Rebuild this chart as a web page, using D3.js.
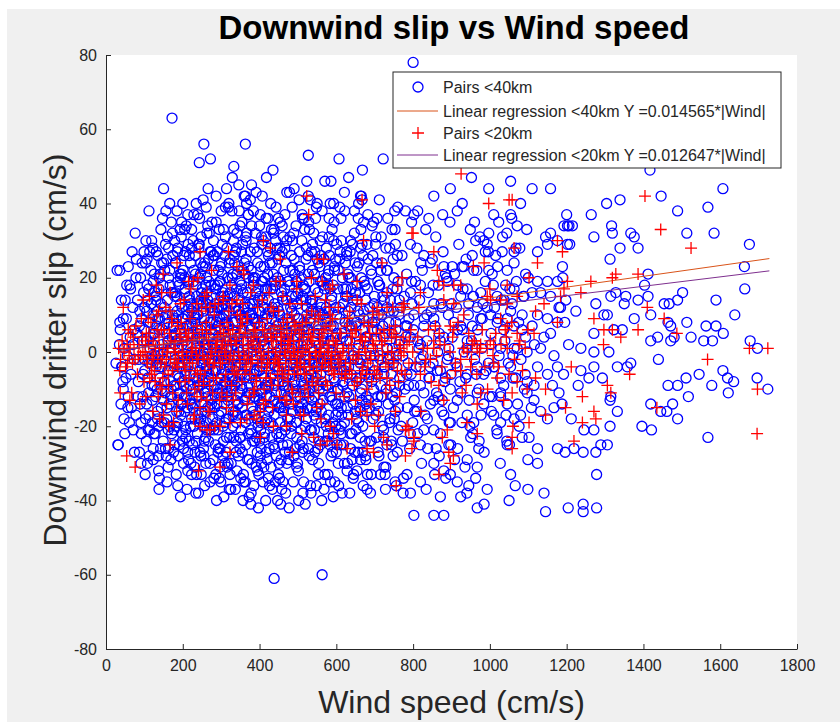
<!DOCTYPE html>
<html>
<head>
<meta charset="utf-8">
<script src="https://cdn.jsdelivr.net/npm/d3@7"></script>
<style>
  body { margin: 0; background: #ffffff; }
  text { font-family: "Liberation Sans", Arial, Helvetica, sans-serif; }
</style>
</head>
<body>
<script>
// Downwind slip vs Wind speed (MATLAB style scatter)

// tick labels
var xTicks = [0, 200, 400, 600, 800, 1000, 1200, 1400, 1600, 1800];
var yTicks = [-80, -60, -40, -20, 0, 20, 40, 60, 80];

// legend entries and regression fits (Y = slope * |Wind|)
var legendLabels = [
  "Pairs <40km",
  "Linear regression <40km Y =0.014565*|Wind|",
  "Pairs <20km",
  "Linear regression <20km Y =0.012647*|Wind|"
];
var slopes = [0.014565, 0.012647];
var regWind = [36, 1728];

// pairs <40km, flat list: wind, slip, wind, slip ...
var pairs40 = [
  // 25-75
  31,-25, 29,22, 36,8, 42,-4, 45,9, 37,6, 26,-3, 41,-4, 45,-10, 58,-12, 71,-21, 32,-25, 36,22, 58,23, 54,18,
  48,1, 52,-7, 63,4, 66,-15, 70,12, 73,-2, 50,14, 61,-19, 68,27, 39,-14, 55,-1, 72,6, 64,17, 47,-18, 35,2,
  // 75-125
  76,32, 104,30, 123,19, 89,-14, 106,-14, 123,-26, 80,5, 84,-8, 88,11, 92,-22, 95,3, 98,16, 101,-5, 103,24,
  108,-30, 110,8, 112,-17, 115,1, 118,13, 120,-9, 122,28, 85,-2, 90,20, 96,-12, 100,6, 105,-24, 109,14, 113,-3,
  117,22, 121,-19, 78,-17, 82,14, 87,-27, 93,9, 97,-6, 102,-33, 107,18, 111,-11, 116,4, 119,-1, 124,10, 79,25,
  91,-30, 99,27, 114,-21,
  // 125-175
  150,44, 145,24, 150,24, 136,-28, 123,-29, 139,-34, 163,20, 163,-26, 172,63, 127,5, 129,-12, 131,15, 133,-3,
  135,26, 137,-20, 139,9, 141,-7, 143,33, 144,-15, 146,2, 148,18, 149,-24, 151,-2, 152,12, 154,-11, 155,29,
  157,5, 158,-18, 160,14, 161,-5, 162,-31, 164,8, 165,-14, 166,22, 168,1, 169,-8, 170,35, 171,-22, 173,10,
  174,-3, 126,21, 128,-22, 130,-4, 132,7, 134,-16, 138,17, 140,-1, 142,-26, 147,6, 153,-8, 156,38, 159,-35,
  163,3, 167,-20, 170,16, 174,26, 134,11, 144,-10, 152,-19, 160,31, 168,-12, 172,4, 157,-28,
  // 175-225
  197,35, 209,34, 193,21, 215,19, 184,-16, 215,-29, 221,-30, 177,7, 178,-9, 179,15, 180,-2, 181,24, 182,-20,
  183,3, 185,11, 186,-6, 187,28, 188,-13, 189,1, 190,18, 191,-25, 192,6, 193,-4, 194,13, 195,-17, 196,31,
  198,-8, 199,9, 200,-1, 201,22, 202,-30, 203,4, 204,-12, 205,16, 206,-6, 207,27, 208,-21, 210,2, 211,10,
  212,-15, 213,37, 214,-3, 216,7, 217,-24, 218,14, 219,-9, 220,24, 222,0, 223,-18, 224,11, 176,-27, 179,30,
  183,-33, 187,19, 191,-11, 195,5, 199,-22, 203,26, 207,-2, 211,-37, 215,12, 219,-13, 223,33, 178,-4, 182,9,
  186,-19, 190,-7, 194,20, 198,2, 202,-26, 206,17, 210,-10, 214,29, 218,-1, 222,8, 185,38, 200,40, 213,-32,
  188,-28, 197,-14, 205,-16, 220,-20, 216,5, 181,16, 209,-5,
  // 225-275
  239,37, 241,29, 263,32, 228,19, 237,13, 245,-27, 236,-33, 255,56, 243,51, 272,52, 263,16, 271,12, 226,4,
  227,-10, 229,22, 230,-3, 231,8, 232,-18, 233,26, 234,-7, 235,1, 236,15, 238,-22, 239,-1, 240,10, 242,-12,
  243,20, 244,-5, 246,6, 247,-28, 248,31, 249,-14, 250,3, 251,17, 252,-8, 253,-20, 254,11, 256,-2, 257,24,
  258,-16, 259,7, 260,-30, 261,-4, 262,13, 264,-10, 265,34, 266,1, 267,-24, 268,19, 269,-6, 270,8, 271,-35,
  273,-13, 274,27, 226,-25, 228,12, 231,-31, 233,-1, 235,40, 238,5, 240,-17, 242,28, 245,-9, 247,14, 249,-3,
  252,23, 254,-26, 256,9, 258,-11, 260,18, 262,-19, 264,2, 266,44, 268,-8, 270,-21, 272,6, 274,-3, 227,30,
  230,-14, 234,-38, 237,3, 241,-7, 244,36, 248,-33, 251,-1, 255,15, 259,-23, 263,-5, 267,25, 271,-15, 273,12,
  229,-20, 246,21, 257,-36, 265,-12, 232,9, 250,-16, 269,4, 261,39, 253,0, 236,-12,
  // 275-325
  280,30, 306,33, 319,39, 320,40, 297,-31, 323,-33, 315,-12, 306,14, 284,13, 276,-2, 277,11, 278,-18, 279,5,
  281,22, 282,-9, 283,1, 285,-25, 286,17, 287,-5, 288,8, 289,-14, 290,27, 291,3, 292,-21, 293,12, 294,-1,
  295,-34, 296,19, 298,-7, 299,6, 300,-16, 301,24, 302,0, 303,-11, 304,9, 305,-28, 307,-3, 308,15, 309,-19,
  310,4, 311,31, 312,-8, 313,10, 314,-23, 316,1, 317,20, 318,-13, 320,7, 321,-37, 322,-4, 324,16, 276,35,
  279,-29, 282,26, 285,-12, 288,-40, 291,18, 294,-17, 297,9, 300,38, 303,-6, 306,-24, 309,13, 312,-1, 315,28,
  318,-30, 321,11, 324,-9, 278,-5, 281,-21, 284,6, 287,42, 290,-10, 293,-26, 296,2, 299,-35, 302,21, 305,-2,
  308,-14, 311,8, 314,44, 317,-6, 320,-18, 323,25, 277,15, 286,-33, 295,33, 304,-9, 313,-27, 322,3, 283,-15,
  298,19, 307,-39, 316,-11, 289,0, 301,12, 310,-30, 319,-2,
  // 325-375
  341,32, 367,32, 360,42, 371,37, 363,-35, 341,-32, 350,10, 367,9, 328,13, 332,-16, 363,56, 333,50, 363,42,
  326,5, 327,-10, 329,20, 330,-1, 331,8, 333,-23, 334,15, 335,-5, 336,2, 337,27, 338,-13, 339,11, 340,-19,
  342,4, 343,-8, 344,23, 345,-28, 346,0, 347,14, 348,-11, 349,34, 351,-3, 352,-21, 353,18, 354,6, 355,-15,
  356,29, 357,-1, 358,-33, 359,12, 361,-7, 362,21, 364,-25, 365,3, 366,-12, 368,16, 369,-4, 370,37, 372,-18,
  373,7, 374,-9, 326,-30, 328,38, 331,-20, 334,26, 337,-37, 340,17, 343,-14, 346,45, 349,-6, 352,9, 355,-27,
  358,22, 361,-2, 364,31, 367,-17, 370,1, 373,-39, 327,1, 330,-7, 335,24, 339,-24, 344,-1, 348,19, 353,-9,
  357,-40, 362,13, 366,40, 371,-22, 374,10, 332,30, 338,-4, 345,11, 351,-34, 356,3, 360,-13, 365,25, 369,-29,
  329,47, 342,-17, 354,35, 368,-6, 336,8, 350,-23, 372,20,
  // 375-425
  384,38, 402,37, 380,-30, 402,-28, 410,30, 384,18, 410,-14, 393,-18, 402,-15, 376,6, 377,-11, 378,22, 379,0,
  381,13, 382,-24, 383,3, 385,-6, 386,28, 387,-17, 388,9, 389,-2, 390,16, 391,-31, 392,5, 394,-9, 395,24,
  396,-20, 397,1, 398,11, 399,-13, 400,34, 401,-4, 403,7, 404,-26, 405,19, 406,-1, 407,-10, 408,14, 409,-35,
  411,2, 412,23, 413,-7, 414,-19, 415,10, 416,31, 417,-3, 418,-12, 419,17, 420,-29, 421,5, 422,-8, 423,26,
  424,-16, 376,41, 378,-38, 381,-15, 383,20, 386,-5, 389,32, 392,-23, 395,8, 398,-33, 401,15, 404,-11, 407,42,
  410,3, 413,-22, 416,-40, 419,9, 422,36, 424,-1, 377,-21, 380,10, 385,-36, 390,-8, 394,27, 399,4, 403,-19,
  408,-4, 412,12, 417,-27, 421,21, 379,45, 388,-12, 397,-42, 406,29, 415,-9, 423,-34, 382,2, 391,-1, 400,-24,
  409,19, 418,47, 387,14, 405,-30,
  // 425-475
  436,32, 462,31, 454,35, 441,-35, 458,-37, 436,11, 454,19, 435,49, 428,28, 438,-61, 426,4, 427,-12, 429,17,
  430,-1, 431,9, 432,-23, 433,24, 434,-6, 437,2, 438,-17, 439,13, 441,-9, 442,30, 443,0, 444,-28, 445,7,
  446,-14, 447,20, 448,-4, 449,-33, 450,11, 451,-8, 452,26, 453,-19, 455,3, 456,-11, 457,16, 459,-2, 460,-25,
  461,8, 463,22, 464,-15, 465,-1, 466,37, 467,-21, 468,6, 469,-7, 470,14, 471,-30, 472,1, 473,-12, 474,19,
  426,-36, 429,40, 432,-3, 435,-20, 438,33, 441,18, 444,-11, 447,-40, 450,-5, 453,10, 456,-29, 459,27, 462,-16,
  465,5, 468,-38, 471,43, 474,-6, 428,-15, 433,12, 437,-25, 442,-2, 446,28, 451,-23, 455,-41, 460,15, 464,-9,
  469,24, 473,-18, 430,-31, 440,6, 449,36, 457,-14, 466,-27, 472,9, 434,17, 452,-34, 463,-3,
  // 475-525
  478,43, 489,32, 516,36, 497,19, 506,-12, 506,-16, 515,-16, 471,-13, 515,-35, 523,10, 476,5, 477,-10, 479,18,
  480,-1, 481,8, 482,-22, 483,26, 484,-6, 485,1, 486,-16, 487,13, 488,-3, 490,-28, 491,10, 492,21, 493,-9,
  494,-1, 495,34, 496,-19, 498,4, 499,-12, 500,16, 501,-32, 502,-5, 503,9, 504,23, 505,-25, 507,0, 508,14,
  509,-8, 510,30, 511,-14, 512,3, 513,-38, 514,18, 517,-2, 518,-20, 519,7, 520,-10, 521,25, 522,-4, 524,12,
  476,-29, 479,31, 482,-14, 485,39, 488,-35, 491,-8, 494,15, 497,-23, 500,2, 503,41, 506,-3, 509,20, 512,-27,
  516,8, 519,-41, 522,28, 524,-15, 480,-18, 487,22, 493,-26, 499,-30, 505,5, 511,37, 518,-11, 523,46, 484,11,
  496,-4, 508,-21, 520,17, 490,44, 502,-40,
  // 525-575
  527,53, 527,42, 528,35, 541,32, 558,30, 550,25, 554,-30, 549,-15, 567,25, 563,19, 558,10, 541,-23, 558,-25,
  563,-60, 526,6, 528,-11, 529,19, 530,-2, 531,8, 532,-21, 533,14, 534,-6, 535,27, 536,-15, 537,1, 538,-29,
  539,11, 540,-8, 542,3, 543,21, 544,-12, 545,-1, 546,36, 547,-18, 548,7, 551,-4, 552,16, 553,-33, 555,2,
  556,-10, 557,23, 559,-6, 560,12, 561,-19, 562,0, 564,31, 565,-13, 566,5, 568,-37, 569,17, 570,-3, 571,-24,
  572,9, 573,-9, 574,28, 527,-26, 530,33, 534,-38, 538,22, 542,-17, 546,-3, 550,40, 554,6, 558,-14, 562,-40,
  566,18, 570,46, 574,-20, 529,-7, 536,13, 544,-27, 552,-9, 560,26, 568,3, 532,41, 548,-36, 564,-2,
  // 575-625
  584,40, 593,40, 593,30, 610,27, 607,52, 584,17, 602,-25, 576,-24, 593,-22, 584,-20, 576,8, 577,-9, 578,18,
  579,-1, 580,-17, 581,11, 582,26, 583,-5, 585,3, 586,-28, 587,14, 588,-12, 589,33, 590,0, 591,-19, 592,7,
  594,-7, 595,22, 596,-35, 597,4, 598,-14, 599,12, 600,-2, 601,29, 603,-10, 604,17, 605,-30, 606,1, 608,-21,
  609,9, 611,-4, 612,36, 613,-15, 614,5, 615,-38, 616,20, 617,-8, 618,13, 619,-25, 620,-1, 621,43, 622,-12,
  623,8, 624,24, 578,-33, 581,36, 587,-3, 592,-39, 598,25, 604,-16, 609,39, 615,-5, 621,-30, 624,15, 586,46,
  600,-27, 613,-20, 579,21,
  // 625-675
  663,42, 671,35, 663,28, 632,47, 668,49, 665,42, 628,-32, 654,-32, 663,-16, 654,18, 628,15, 654,14, 667,41,
  626,3, 628,-11, 630,21, 632,-4, 634,7, 636,-22, 638,12, 640,-1, 642,29, 644,-14, 646,5, 648,-27, 650,16,
  652,-7, 656,1, 658,-19, 660,10, 662,-3, 664,33, 666,-10, 668,6, 670,-36, 672,19, 674,-6, 627,27, 631,-17,
  635,-38, 639,17, 643,-9, 647,38, 651,-21, 655,-2, 659,24, 663,-29, 667,-13, 671,11, 675,-24, 629,-6, 637,30,
  645,-33, 653,8, 661,-15, 669,26, 641,-29, 657,36,
  // 675-725
  680,29, 702,29, 697,35, 722,52, 680,-37, 689,-38, 715,-33, 719,24, 706,12, 693,8, 680,-16, 710,-16, 676,4,
  678,-12, 681,17, 683,-3, 685,9, 687,-24, 690,22, 692,-8, 694,1, 696,-18, 698,13, 700,-5, 703,31, 705,-14,
  707,6, 709,-27, 711,18, 713,-1, 716,-9, 718,10, 720,-20, 723,4, 725,-4, 677,-29, 682,37, 686,-15, 691,-33,
  695,26, 699,-1, 704,-23, 708,19, 712,41, 717,-12, 721,15, 724,-31, 688,-6,
  // 725-767
  745,33, 754,29, 732,16, 732,12, 723,-23, 732,-25, 754,-16, 756,-36, 728,5, 730,-10, 733,22, 735,-2, 737,8,
  739,-19, 741,14, 743,-6, 746,1, 748,-28, 750,20, 752,-13, 755,6, 757,-4, 759,26, 761,-21, 763,10, 765,-9,
  727,-33, 734,36, 740,-1, 744,-25, 749,11, 753,-35, 758,17, 762,-15, 766,3, 729,28, 747,-12, 760,39,
  // 767-1184
  1110,44, 1158,44, 997,44, 897,44, 854,42, 928,40, 780,38, 802,37, 841,36, 1054,46, 1010,37, 1023,35, 1054,37,
  1071,34, 1044,32, 997,32, 984,30, 963,30, 954,26, 993,29, 1032,27, 1063,27, 1124,27, 1150,29, 1158,32,
  1176,30, 1145,31, 828,26, 845,24, 902,23, 928,23, 880,23, 997,22, 1006,21, 958,22, 1063,24, 1093,21, 1041,18,
  1063,17, 1124,19, 1150,19, 1176,19, 1110,16, 1132,16, 1158,15, 1089,15, 1019,15, 1037,14, 976,16, 941,17,
  924,15, 889,19, 915,18, 819,18, 793,16, 854,13, 876,12, 945,13, 967,12, 993,12, 1058,13, 1180,12, 1124,10,
  1150,9, 1176,8, 1158,5, 1141,4, 1110,7, 1084,6, 1045,9, 1063,7, 1002,10, 1019,8, 976,9, 954,7, 906,8, 928,6,
  854,9, 828,7, 802,10, 784,7, 793,4, 819,2, 871,3, 893,1, 941,3, 963,1, 1002,2, 1028,1, 1071,1, 1097,0,
  1132,1, 1167,-1, 1176,-4, 1124,-4, 1150,-6, 1097,-8, 1115,-9, 1054,-4, 1067,-7, 1010,-4, 1028,-7, 967,-4,
  984,-6, 915,-4, 937,-7, 863,-5, 884,-7, 819,-4, 841,-7, 784,-6, 802,-9, 828,-11, 854,-13, 897,-10, 915,-13,
  967,-11, 984,-14, 1028,-11, 1045,-14, 1097,-11, 1115,-13, 1163,-9, 1180,-11, 1167,-15, 1132,-16, 1150,-18,
  1080,-17, 1063,-18, 1010,-17, 1028,-19, 941,-17, 958,-19, 880,-17, 897,-19, 810,-16, 837,-18, 793,-22,
  819,-25, 871,-22, 893,-25, 950,-23, 971,-26, 1019,-22, 1045,-25, 1102,-23, 1124,-26, 1176,-26, 854,-30,
  880,-32, 941,-29, 967,-31, 1054,-33, 784,-33, 819,-35, 897,-33, 915,-35, 1099,-37, 1141,-38, 945,-36,
  793,-38, 871,-39, 924,-39, 967,-42, 1145,-43, 802,-44, 854,-44, 880,-44, 800,78, 952,47,
  // 1184-1730
  1417,49, 1607,44, 1446,42, 1339,41, 1304,40, 1200,37, 1264,37, 1489,38, 1568,39, 1202,34, 1215,34, 1317,34,
  1319,32, 1367,32, 1376,31, 1271,31, 1513,32, 1584,32, 1208,29, 1386,28, 1339,28, 1313,25, 1676,29, 1663,23,
  1412,21, 1664,17, 1403,18, 1502,16, 1589,14, 1638,10, 1454,13, 1467,13, 1489,14, 1412,15, 1386,14, 1354,15,
  1328,16, 1315,15, 1276,13, 1297,10, 1306,10, 1350,13, 1376,9, 1419,10, 1464,8, 1471,7, 1513,8, 1563,7,
  1589,7, 1608,5, 1271,5, 1323,6, 1345,6, 1524,4, 1557,3, 1580,3, 1419,3, 1437,4, 1471,3, 1480,4, 1678,3,
  1697,1, 1237,1, 1271,0, 1310,0, 1439,-2, 1332,-4, 1358,-4, 1367,-3, 1271,-4, 1237,-5, 1293,-7, 1258,-7,
  1545,-6, 1607,-5, 1619,-7, 1635,-8, 1511,-7, 1489,-9, 1464,-9, 1578,-9, 1621,-11, 1696,-7, 1724,-10,
  1517,-12, 1476,-14, 1419,-14, 1445,-16, 1461,-16, 1489,-18, 1396,-20, 1421,-21, 1568,-23, 1332,-16,
  1313,-13, 1315,-12, 1313,-20, 1245,-21, 1271,-21, 1289,-25, 1306,-25, 1219,-26, 1243,-27, 1276,-27,
  1278,-33, 1204,-42, 1243,-41, 1243,-43, 1278,-42, 1193,34, 1206,34, 1202,29, 1189,23, 1184,12, 1190,20,
  1195,8, 1192,-6, 1198,14, 1188,-14, 1205,2, 1212,-18, 1196,-27, 1224,11, 1230,-9,
  // core fill 100-480
  101,12, 103,-18, 105,3, 107,25, 109,-7, 111,17, 113,-28, 115,8, 117,-2, 119,30, 121,-13, 123,5, 125,-22,
  127,16, 129,-1, 131,27, 133,-10, 135,9, 137,-32, 139,20, 141,-4, 143,13, 145,-19, 147,36, 149,0, 151,-8,
  153,22, 155,-26, 157,10, 159,-15, 161,3, 163,28, 165,-5, 167,18, 169,-29, 171,-12, 173,32, 175,7, 177,-21,
  179,2, 181,24, 183,-9, 185,15, 187,-36, 189,10, 191,-3, 193,33, 195,-14, 197,21, 199,-24, 112,38, 138,-37,
  166,40, 194,-39,
  201,9, 203,-20, 205,33, 207,3, 209,-12, 211,19, 213,-27, 215,-1, 217,26, 219,-6, 221,13, 223,-33, 225,7,
  227,-15, 229,37, 231,0, 233,21, 235,-24, 237,10, 239,-9, 241,-38, 243,29, 245,4, 247,-18, 249,16, 251,-3,
  253,41, 255,-28, 257,-11, 259,23, 261,1, 263,-21, 265,14, 267,-7, 269,32, 271,-30, 273,18, 275,-14, 277,2,
  279,26, 281,-34, 283,11, 285,-5, 287,35, 289,-19, 291,7, 293,22, 295,-11, 297,-26, 299,15,
  301,-1, 303,29, 305,-20, 307,10, 309,-8, 311,39, 313,3, 315,-31, 317,15, 319,-12, 321,24, 323,-4, 325,-37,
  327,18, 329,6, 331,-17, 333,33, 335,-9, 337,12, 339,-27, 341,21, 343,1, 345,-14, 347,38, 349,-23, 351,5,
  353,27, 355,-6, 357,16, 359,-35, 361,9, 363,-19, 365,30, 367,-2, 369,-11, 371,23, 373,-29, 375,13, 377,-41,
  379,34, 381,4, 383,-16, 385,19, 387,-24, 389,8, 391,43, 393,-5, 395,-32, 397,17, 399,-13,
  401,11, 403,-21, 405,31, 407,-3, 409,8, 411,-31, 413,20, 415,-10, 417,36, 419,-18, 421,1, 423,14, 425,-26,
  427,24, 429,-7, 431,33, 433,-37, 435,6, 437,-13, 439,19, 441,-4, 443,39, 445,-22, 447,12, 449,-1, 451,-30,
  453,28, 455,-15, 457,4, 459,34, 461,-35, 463,-9, 465,17, 467,-20, 469,2, 471,30, 473,-25, 475,8, 477,-42,
  479,22,
  // core fill 480-1100
  481,12, 483,-20, 486,30, 488,7, 490,-11, 492,-2, 495,19, 497,-31, 499,9, 502,-15, 504,27, 506,-6, 508,2,
  511,-24, 513,15, 515,-9, 517,33, 520,-1, 522,-18, 524,6, 527,21, 529,-28, 531,-5, 534,11, 536,-13, 538,29,
  540,0, 543,-21, 545,17, 547,-7, 550,5, 552,-26, 554,24, 556,-3, 559,13, 561,-16, 563,38, 565,-10, 568,1,
  570,-33, 572,20, 574,-4, 577,9, 579,-22, 581,31, 583,-12, 586,3, 588,15, 590,-27, 592,-1, 595,23, 597,-8,
  599,-17, 585,-35, 548,39, 512,36, 533,-36, 566,10, 594,35, 521,14,
  601,5, 603,-14, 605,22, 607,-3, 609,12, 611,-25, 613,30, 615,1, 617,-9, 619,17, 621,-19, 623,8, 625,-4,
  627,26, 629,-30, 631,11, 633,-12, 635,3, 637,20, 639,-6, 641,-22, 643,14, 645,-1, 647,32, 649,-16, 651,7,
  653,-8, 655,23, 657,-27, 659,2, 661,16, 663,-11, 665,-2, 667,29, 669,-20, 671,9, 673,-5, 675,18, 677,-14,
  679,4, 681,-33, 683,25, 685,-7, 687,12, 689,-1, 691,-24, 693,34, 695,6, 697,-10, 699,15, 606,-36, 622,38,
  644,-34, 658,40, 676,-28, 692,21, 614,-17, 636,27, 662,-23, 684,-13,
  701,3, 703,-17, 705,24, 707,-6, 709,10, 711,-28, 713,18, 715,-2, 717,31, 719,-12, 721,7, 723,-21, 725,14,
  727,-4, 729,-31, 731,22, 733,1, 735,-14, 737,11, 739,28, 741,-9, 743,-24, 745,5, 747,17, 749,-3, 751,-18,
  753,33, 755,8, 757,-11, 759,-27, 761,19, 763,2, 765,-7, 767,12, 769,-20, 771,26, 773,-1, 775,-34, 777,15,
  779,-10, 781,4, 783,21, 785,-15, 787,-3, 789,9, 791,-26, 793,29, 795,-6, 797,13, 799,-19, 706,36, 728,-37,
  752,38, 774,-38, 796,35,
  801,6, 803,-13, 806,19, 808,-4, 810,28, 812,-22, 815,1, 817,14, 819,-9, 822,-30, 824,22, 826,-1, 829,9,
  831,-17, 833,33, 836,3, 838,-26, 840,16, 843,-7, 845,-14, 847,11, 850,25, 852,-3, 854,-21, 857,7, 859,31,
  861,-11, 864,0, 866,18, 868,-28, 871,-5, 873,13, 875,-16, 878,27, 880,4, 882,-8, 885,-34, 887,20, 889,-2,
  892,10, 894,-19, 896,35, 899,-6, 812,38, 834,-37, 856,-33, 877,37, 898,-25, 820,-2, 865,-12,
  902,4, 905,-15, 908,21, 911,-3, 913,12, 916,-26, 919,29, 922,-8, 924,7, 927,-19, 930,17, 933,0, 935,-31,
  938,25, 941,-6, 944,10, 946,-13, 949,33, 952,3, 955,-22, 957,15, 960,-2, 963,-34, 966,22, 968,6, 971,-10,
  974,31, 977,-17, 979,1, 982,13, 985,-27, 988,19, 990,-5, 993,-37, 996,27, 999,-12, 915,38, 940,-38, 960,35,
  985,-41,
  1003,5, 1006,-12, 1009,18, 1012,-4, 1015,26, 1018,-21, 1021,9, 1024,-1, 1027,-30, 1030,14, 1033,31, 1036,-9,
  1039,3, 1042,-17, 1045,22, 1048,-3, 1051,-25, 1054,11, 1057,36, 1060,-7, 1063,1, 1066,-36, 1069,19, 1072,-14,
  1075,8, 1078,28, 1081,-2, 1084,-23, 1087,15, 1090,-10, 1093,4, 1096,33, 1099,-29, 1050,-40, 1080,40,
  // dense core, second pass
  122,2, 126,-9, 130,14, 134,-18, 138,6, 142,21, 146,-4, 150,-13, 154,9, 158,25, 162,-21, 166,0, 170,-10,
  174,16, 178,-25, 182,5, 186,27, 190,-16, 194,-1, 198,12,
  202,-9, 205,20, 208,-23, 211,7, 214,-4, 217,15, 220,-14, 223,28, 226,-1, 229,10, 232,-27, 235,18, 238,-8,
  241,4, 244,-19, 247,24, 250,-6, 253,13, 256,-24, 259,2, 262,20, 265,-15, 268,-2, 271,27, 274,-9, 277,8,
  280,-20, 283,18, 286,-1, 289,12, 292,-27, 295,4, 298,23,
  301,-12, 304,16, 307,-5, 310,26, 313,-18, 316,8, 319,-1, 322,-23, 325,13, 328,-8, 331,21, 334,3, 337,-16,
  340,28, 343,-4, 346,10, 349,-26, 352,17, 355,-10, 358,6, 361,24, 364,-17, 367,-1, 370,12, 373,-7, 376,27,
  379,-22, 382,9, 385,-12, 388,20, 391,2, 394,-27, 397,14, 400,-5,
  403,23, 406,-14, 409,4, 412,-23, 415,17, 418,-2, 421,27, 424,-9, 427,11, 430,-19, 433,5, 436,21, 439,-26,
  442,8, 445,-5, 448,25, 451,-15, 454,1, 457,-22, 460,14, 463,-8, 466,28, 469,-13, 472,3, 475,19, 478,-27,
  481,-3, 484,15, 487,-10, 490,25, 493,6, 496,-19, 499,13,
  502,-1, 505,22, 508,-15, 511,6, 514,-26, 517,17, 520,-7, 523,2, 526,26, 529,-12, 532,9, 535,-21, 538,14,
  541,-3, 544,27, 547,-16, 550,-1, 553,11, 556,-24, 559,19, 562,-8, 565,4, 568,25, 571,-18, 574,12, 577,-4,
  580,22, 583,-25, 586,7, 589,-13, 592,18, 595,-3, 598,-20,
  601,10, 605,-10, 609,25, 613,-22, 617,4, 621,-5, 625,17, 629,-15, 633,20, 637,-26, 641,7, 645,-2, 649,24,
  653,-18, 657,11, 661,-7, 665,20, 669,-27, 673,3, 677,14,
  40,14, 44,-8, 49,-22, 53,9, 57,-15, 62,18, 65,-6, 70,2, 74,-27, 78,20, 83,-12, 87,7, 91,-19, 94,24, 100,-2,
  106,11, 110,-21, 114,27,
  700,8, 708,-12, 716,22, 724,-6, 732,1, 740,-18, 748,25, 756,-1, 764,14, 772,-24, 780,7, 788,-9, 796,19,
  804,-16, 812,3, 820,24, 828,-21, 836,10, 844,-4, 852,18, 860,-26, 868,5, 876,-13, 884,21, 892,-1, 900,13,
  908,-29, 916,6, 924,-11, 932,23, 940,1, 948,-20, 956,15, 964,-6, 972,-24, 980,9, 988,27, 996,-3, 1004,-16,
  1012,12, 1020,23, 1028,-12, 1036,6, 1044,-24, 1052,17, 1060,-1, 1068,28, 1076,-20, 1084,10, 1092,-6,
  1100,20, 1108,-15, 1116,2, 1124,-30
];

// pairs <20km, flat list: wind, slip, wind, slip ...
var pairs20 = [
  // central band
  33,1, 38,-2, 42,3, 47,0, 51,-4, 55,2, 60,-1, 64,5, 69,-3, 73,1, 78,7, 82,-6, 86,2, 90,-1, 95,4, 99,-8,
  36,-5, 58,6, 76,-2, 92,9, 45,12, 67,-11, 88,-14, 97,14,
  102,0, 105,5, 108,-3, 111,2, 114,-7, 117,8, 120,-1, 123,3, 126,-5, 129,1, 132,10, 135,-2, 138,4, 141,-9,
  144,6, 147,-1, 150,2, 153,-4, 156,12, 159,0, 162,-6, 165,5, 168,-2, 171,8, 174,-11, 177,1, 180,3, 183,-3,
  186,7, 189,-1, 192,-8, 195,4, 198,0, 104,-12, 113,15, 122,-16, 131,18, 140,-18, 149,21, 158,-14, 167,16,
  176,-19, 185,24, 194,13, 110,9, 137,11, 163,-9, 188,-13, 119,-6, 146,-10, 172,9,
  201,2, 204,-4, 207,6, 210,-1, 213,3, 216,-7, 219,9, 222,0, 225,-3, 228,5, 231,-10, 234,1, 237,7, 240,-2,
  243,4, 246,-6, 249,11, 252,-1, 255,2, 258,-5, 261,8, 264,-2, 267,3, 270,-9, 273,6, 276,0, 279,-4, 282,10,
  285,1, 288,-7, 291,4, 294,-1, 297,7, 203,14, 212,-14, 221,17, 230,-17, 239,20, 248,-12, 257,15, 266,-16,
  275,22, 284,-20, 293,13, 206,-8, 224,11, 242,-9, 260,12, 278,-11, 296,-13, 215,5, 233,-5, 251,6, 269,-3, 287,2,
  300,1, 303,-3, 306,5, 309,0, 312,-6, 315,8, 318,2, 321,-2, 324,4, 327,-9, 330,6, 333,-1, 336,3, 339,-5,
  342,10, 345,0, 348,-3, 351,7, 354,-8, 357,2, 360,-1, 363,5, 366,-4, 369,9, 372,1, 375,-6, 378,3, 381,-2,
  384,6, 387,-10, 390,0, 393,4, 396,-3, 399,8, 305,15, 314,-15, 323,18, 332,-13, 341,14, 350,-19, 359,21,
  368,-14, 377,16, 386,-17, 395,12, 302,-11, 320,11, 338,-11, 356,13, 374,-12, 392,-8, 311,3, 329,-4, 347,5,
  365,-1, 383,2,
  402,2, 405,-4, 408,6, 411,-1, 414,3, 417,-7, 420,9, 423,0, 426,-3, 429,5, 432,-9, 435,1, 438,7, 441,-2,
  444,4, 447,-6, 450,11, 453,-1, 456,3, 459,-5, 462,8, 465,0, 468,-3, 471,6, 474,-8, 477,2, 480,-1, 483,5,
  486,-11, 489,3, 492,0, 495,7, 498,-4, 407,14, 416,-13, 425,16, 434,-15, 443,19, 452,-12, 461,15, 470,-17,
  479,13, 488,-14, 497,17, 412,-10, 430,12, 448,-9, 466,-13, 484,10, 419,4, 437,-3, 455,6, 473,1, 491,-6,
  501,1, 505,-3, 509,5, 513,0, 517,-6, 521,8, 525,2, 529,-2, 533,4, 537,-8, 541,6, 545,0, 549,-4, 553,9,
  557,1, 561,-5, 565,3, 569,-1, 573,7, 577,-9, 581,2, 585,-2, 589,5, 593,-6, 597,0, 509,13, 527,-12, 545,15,
  563,-14, 581,12, 599,-11, 518,-10, 536,11, 554,-11, 572,14, 590,9, 503,6, 531,-4, 559,2, 587,-3,
  602,2, 607,-4, 612,5, 617,0, 622,-7, 627,7, 632,1, 637,-3, 642,4, 647,-9, 652,6, 657,-1, 662,3, 667,-5,
  672,8, 677,0, 682,-3, 687,5, 692,-8, 697,2, 605,12, 620,-12, 635,11, 650,-13, 665,13, 680,-10, 695,11,
  612,-2, 640,-6, 668,3,
  702,1, 708,-4, 714,5, 720,-1, 726,3, 732,-7, 738,6, 744,0, 750,-3, 756,4, 762,-8, 766,2, 711,10, 729,-11,
  747,12, 765,-12,
  // band fill
  103,3, 118,-4, 133,6, 148,-7, 161,1, 178,-3, 191,5, 208,-5, 223,3, 236,-1, 254,-8, 268,2, 283,-3, 299,5,
  313,-1, 326,2, 344,-6, 358,4, 371,-2, 389,6, 404,-1, 418,-5, 431,3, 446,-2,
  452,-4, 456,2, 460,-7, 464,4, 468,-1, 472,9, 476,-5, 480,3, 484,-10, 488,0, 492,6, 496,-3, 500,-6, 504,3,
  508,-1, 512,8, 516,-4, 520,1, 524,-9, 528,5, 532,-2, 536,3, 540,-5, 544,9, 548,-1, 552,-7, 556,4, 560,0,
  564,-3, 568,6, 572,-8, 576,1, 580,-4, 584,7, 588,-1, 592,3, 596,-6, 470,-20, 510,-22, 560,-18, 590,18,
  535,20, 485,-27,
  604,-2, 609,5, 614,-6, 619,1, 624,-3, 629,9, 634,-5, 639,2, 644,-1, 649,6, 654,-8, 659,0, 664,4, 669,-4,
  674,1, 679,-6, 684,7, 689,-2, 694,3, 699,-5, 704,5, 709,-1, 714,-7, 719,2, 724,6, 729,-3, 734,0, 739,-9,
  744,4, 749,-2, 754,7, 759,-5, 764,1, 769,-1, 774,4, 779,-6, 784,2, 789,-3, 794,6, 799,0, 640,-18, 700,-20,
  760,18, 620,21, 690,-14,
  805,-3, 812,4, 819,-6, 826,1, 833,-2, 840,6, 847,-8, 854,3, 861,-1, 868,5, 875,-4, 882,2, 889,-7, 896,0,
  903,4, 910,-3, 917,8, 924,-5, 931,1, 938,-9, 945,5, 952,-2, 959,3, 966,-6, 973,0, 980,6, 987,-4, 994,-10,
  1001,3, 1008,-1, 1015,5, 1022,-4, 1029,2, 1036,-13, 1043,4, 1050,-6, 1057,8, 1064,-2, 1071,-8, 1078,3,
  1085,-5, 1092,1, 1099,6, 820,-16, 880,14, 940,-19, 1000,17, 1060,-20, 905,-28, 985,24,
  56,-3, 63,1, 71,4, 84,-1, 96,0, 107,-2, 112,5, 124,-1, 128,-8, 139,1, 143,-3, 152,6, 157,-2, 169,3,
  173,-5, 181,0, 187,-4, 196,8, 200,-2, 209,4, 218,-3, 226,1, 238,-6, 244,1, 256,-2, 262,5, 272,-1, 280,-7,
  290,3, 298,-3, 304,2, 310,-8, 319,6, 325,-1, 334,-6, 340,3, 349,-2, 355,8, 362,-5, 370,2, 377,-3, 385,4,
  391,-7, 398,1, 406,-2, 413,6, 421,-3, 428,-7, 436,4, 442,0, 449,-3, 458,5, 466,-6, 474,3, 482,-2, 490,8,
  499,-1, 507,-4, 515,4, 522,-6, 530,0, 539,3, 547,-9, 555,-1, 562,5, 571,-3, 579,0, 588,-5, 598,3, 610,-1,
  625,-6, 638,5, 651,-2, 663,-7, 676,4, 690,-1, 705,-6, 718,3, 735,-4, 750,5, 770,-5, 790,3, 830,-4, 870,2,
  910,-5, 960,3, 1010,-3, 1040,6,
  // outer points, wind < 800
  523,42, 667,41, 528,37, 410,30, 428,28, 245,27, 319,27, 454,25, 550,25, 567,25, 671,30, 719,24, 797,32,
  215,19, 228,19, 341,23, 358,22, 145,16, 263,16, 384,18, 454,19, 497,19, 563,19, 584,17, 654,19, 732,16,
  771,20, 167,11, 237,13, 271,12, 284,13, 306,14, 328,13, 350,10, 367,9, 436,11, 523,10, 558,10, 584,10,
  628,15, 654,14, 706,12, 732,12, 771,12, 776,13, 693,8, 37,-11, 62,-13, 136,-12, 210,-11, 237,-12, 263,-13,
  245,-15, 271,-16, 315,-12, 332,-16, 384,-11, 410,-14, 402,-16, 471,-13, 506,-12, 549,-15, 506,-17, 515,-17,
  150,-17, 163,-20, 184,-16, 228,-18, 245,-20, 263,-21, 271,-21, 297,-20, 323,-19, 367,-18, 393,-18, 410,-19,
  436,-20, 541,-23, 576,-24, 558,-25, 602,-25, 628,-26, 584,-20, 593,-22, 663,-16, 680,-17, 710,-17, 723,-23,
  732,-25, 754,-16, 780,-21, 789,-21, 802,-23, 780,-28, 756,-36, 680,-26, 697,-27, 167,-25, 54,-28, 76,-31,
  241,-32, 297,-31, 323,-27, 402,-23,
  // wind 767-1184
  997,40, 1050,41, 1058,41, 800,32, 854,27, 1063,28, 1176,30, 1189,27, 1124,24, 957,23, 863,22, 867,19,
  819,16, 880,18, 906,18, 924,18, 1045,18, 1102,20, 1202,19, 1193,17, 1071,15, 993,15, 1002,14, 776,12,
  815,12, 906,13, 1028,14, 1045,13, 1119,11, 1141,13, 1184,15, 858,7, 897,7, 906,6, 932,10, 1028,9, 1045,7,
  1071,5, 1076,2, 1115,5, 1176,8, 767,1, 776,0, 837,1, 854,1, 932,1, 954,2, 976,2, 993,1, 1010,2, 941,0,
  967,1, 1045,1, 845,-2, 924,-2, 950,-4, 1019,-7, 1119,-7, 1145,-10, 867,-9, 928,-11, 976,-11, 1058,-11,
  1097,-10, 880,-13, 967,-14, 1197,-15, 1145,-17, 1102,-19, 784,-20, 802,-24, 797,-26, 889,-21, 876,-23,
  893,-27, 897,-30, 967,-22, 1058,-23, 1058,-26, 867,-33, 925,48,
  // wind > 1184
  1404,42, 1445,33, 1524,28, 1328,21, 1319,20, 1386,21, 1263,19, 1237,16, 1410,12, 1454,9, 1271,9, 1297,6,
  1319,6, 1341,4, 1386,6, 1296,2, 1487,5, 1676,1, 1724,1, 1567,-2, 1212,-4, 1364,-6, 1306,-9, 1315,-11,
  1241,-12, 1435,-15, 1271,-16, 1276,-18, 1241,-19, 1697,-10, 1696,-22, 1219,-24
];

function toPairs(flat) {
  var out = [];
  for (var i = 0; i < flat.length; i += 2) {
    out.push({ wind: flat[i], slip: flat[i + 1] });
  }
  return out;
}

var data40 = toPairs(pairs40);
var data20 = toPairs(pairs20);

// Define SVG area dimensions
var svgWidth = 840;
var svgHeight = 722;

var margin = {
  top: 55,
  right: 43,
  bottom: 73,
  left: 106
};

var width = svgWidth - margin.left - margin.right;
var height = svgHeight - margin.top - margin.bottom;

var svg = d3.select("body")
  .append("svg")
  .attr("width", svgWidth)
  .attr("height", svgHeight);

// figure background
svg.append("rect")
  .attr("width", svgWidth)
  .attr("height", svgHeight)
  .attr("fill", "#ffffff");
svg.append("rect")
  .attr("x", 7)
  .attr("y", 9)
  .attr("width", svgWidth - 7)
  .attr("height", svgHeight - 9)
  .attr("fill", "#f0f0f0");

var chartGroup = svg.append("g")
  .attr("transform", `translate(${margin.left}, ${margin.top})`);

chartGroup.append("rect")
  .attr("width", width)
  .attr("height", height)
  .attr("fill", "#ffffff");

chartGroup.append("clipPath")
  .attr("id", "plotclip")
  .append("rect")
  .attr("width", width)
  .attr("height", height);

var xLinearScale = d3.scaleLinear()
  .domain([0, 1800])
  .range([0, width]);

var yLinearScale = d3.scaleLinear()
  .domain([-80, 80])
  .range([height, 0]);

var marks = chartGroup.append("g")
  .attr("clip-path", "url(#plotclip)");

var regLine = d3.line()
  .x(d => xLinearScale(d[0]))
  .y(d => yLinearScale(d[1]));

var plusPath = "M-6,0H6M0,-6V6";

// pairs <40km
marks.append("g")
  .selectAll("circle")
  .data(data40)
  .enter()
  .append("circle")
  .attr("cx", d => xLinearScale(d.wind))
  .attr("cy", d => yLinearScale(d.slip))
  .attr("r", 5)
  .attr("fill", "none")
  .attr("stroke", "#0000ff")
  .attr("stroke-width", 1.3);

// regression <40km
marks.append("path")
  .attr("d", regLine(regWind.map(w => [w, slopes[0] * w])))
  .attr("fill", "none")
  .attr("stroke", "#d95319")
  .attr("stroke-width", 1);

// pairs <20km
marks.append("g")
  .selectAll("path")
  .data(data20)
  .enter()
  .append("path")
  .attr("d", plusPath)
  .attr("transform", d => `translate(${xLinearScale(d.wind)}, ${yLinearScale(d.slip)})`)
  .attr("fill", "none")
  .attr("stroke", "#ff0000")
  .attr("stroke-width", 1.3);

// regression <20km
marks.append("path")
  .attr("d", regLine(regWind.map(w => [w, slopes[1] * w])))
  .attr("fill", "none")
  .attr("stroke", "#7e2f8e")
  .attr("stroke-width", 1);

// axes, ticks pointing inwards
var bottomAxis = d3.axisBottom(xLinearScale)
  .tickValues(xTicks)
  .tickFormat(d => String(d))
  .tickSizeInner(-5)
  .tickSizeOuter(0)
  .tickPadding(11);

var leftAxis = d3.axisLeft(yLinearScale)
  .tickValues(yTicks)
  .tickFormat(d => String(d))
  .tickSizeInner(-5)
  .tickSizeOuter(0)
  .tickPadding(9);

var xAxis = chartGroup.append("g")
  .attr("transform", `translate(0, ${height})`)
  .call(bottomAxis);

var yAxis = chartGroup.append("g")
  .call(leftAxis);

[xAxis, yAxis].forEach(function(ax) {
  ax.select(".domain").attr("stroke", "#262626");
  ax.selectAll(".tick line").attr("stroke", "#262626");
  ax.selectAll(".tick text")
    .attr("font-size", 16)
    .attr("fill", "#262626");
});

// legend
var legend = svg.append("g")
  .attr("transform", "translate(393, 72)");

legend.append("rect")
  .attr("width", 388)
  .attr("height", 96)
  .attr("fill", "#ffffff")
  .attr("stroke", "#262626")
  .attr("stroke-width", 1);

var rowY = [15, 39, 61, 83];

legend.append("circle")
  .attr("cx", 25)
  .attr("cy", rowY[0])
  .attr("r", 5)
  .attr("fill", "none")
  .attr("stroke", "#0000ff")
  .attr("stroke-width", 1.3);

legend.append("line")
  .attr("x1", 4).attr("x2", 45)
  .attr("y1", rowY[1]).attr("y2", rowY[1])
  .attr("stroke", "#d95319");

legend.append("path")
  .attr("d", plusPath)
  .attr("transform", `translate(25, ${rowY[2]})`)
  .attr("stroke", "#ff0000")
  .attr("stroke-width", 1.3);

legend.append("line")
  .attr("x1", 4).attr("x2", 45)
  .attr("y1", rowY[3]).attr("y2", rowY[3])
  .attr("stroke", "#7e2f8e");

legend.selectAll("text.entry")
  .data(legendLabels)
  .enter()
  .append("text")
  .attr("class", "entry")
  .attr("x", 50)
  .attr("y", (d, i) => rowY[i])
  .attr("dy", "0.35em")
  .attr("font-size", 16)
  .attr("fill", "#262626")
  .text(d => d);

// title
svg.append("text")
  .attr("x", 454)
  .attr("y", 39)
  .attr("text-anchor", "middle")
  .attr("font-size", 33)
  .attr("font-weight", "bold")
  .attr("fill", "#000000")
  .text("Downwind slip vs Wind speed");

// text label for the x axis
svg.append("text")
  .attr("x", margin.left + width / 2)
  .attr("y", 713)
  .attr("text-anchor", "middle")
  .attr("font-size", 32)
  .attr("fill", "#262626")
  .text("Wind speed (cm/s)");

// text label for the y axis
svg.append("text")
  .attr("transform", "translate(66, 350) rotate(-90)")
  .attr("text-anchor", "middle")
  .attr("font-size", 32)
  .attr("fill", "#262626")
  .text("Downwind drifter slip (cm/s)");
</script>
</body>
</html>
